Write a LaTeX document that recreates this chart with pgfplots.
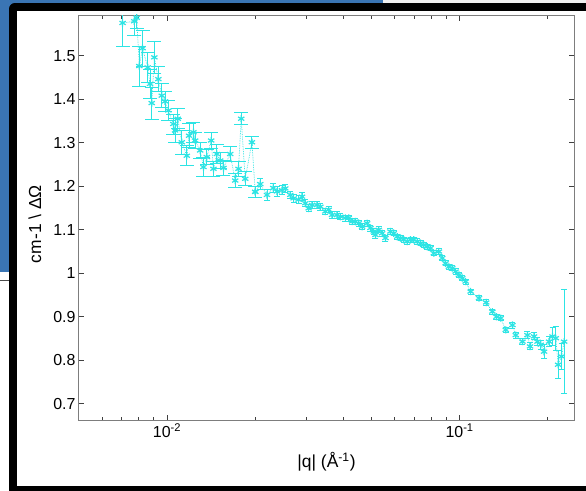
\documentclass[border=0pt]{standalone}
\usepackage{pgfplots}
\pgfplotsset{compat=1.18}
\usepackage{pgfplotstable}
\usepackage{fontspec}
\setmainfont{Liberation Sans}

\definecolor{scan}{RGB}{45,228,228}
\definecolor{winblue}{RGB}{58,117,180}
\definecolor{axgray}{RGB}{125,125,125}

% low-q detector: q, I, dI
\pgfplotstableread{
q I dI
0.007047 1.575 0.055
0.007727 1.579 0.032
0.007875 1.587 0.025
0.008039 1.476 0.046
0.008244 1.517 0.041
0.008588 1.473 0.034
0.008746 1.435 0.034
0.008864 1.391 0.037
0.009048 1.496 0.037
0.009337 1.446 0.028
0.009591 1.408 0.028
0.009844 1.395 0.023
0.010103 1.374 0.023
0.010509 1.343 0.023
0.010651 1.328 0.028
0.010880 1.355 0.023
0.011229 1.301 0.028
0.011682 1.270 0.023
0.011895 1.316 0.028
0.012305 1.324 0.023
0.012472 1.305 0.018
0.012973 1.282 0.018
0.013315 1.244 0.021
0.013677 1.267 0.018
0.014149 1.305 0.018
0.014408 1.240 0.018
0.014799 1.274 0.021
0.015189 1.259 0.018
0.015590 1.242 0.018
0.016436 1.274 0.018
0.017097 1.213 0.016
0.017548 1.240 0.018
0.017925 1.355 0.014
0.018500 1.217 0.016
0.019503 1.301 0.014
0.020017 1.187 0.012
}\lowq

% higher q
\pgfplotstableread{
q I dI
0.020017 1.187 0.012
0.020821 1.205 0.012
0.021950 1.180 0.012
0.023069 1.196 0.011
0.023752 1.188 0.011
0.024708 1.191 0.010
0.025359 1.195 0.010
0.026379 1.180 0.009
0.027074 1.172 0.009
0.028164 1.169 0.009
0.028929 1.176 0.009
0.029691 1.161 0.008
0.030473 1.149 0.008
0.031301 1.157 0.008
0.032557 1.157 0.008
0.033414 1.153 0.008
0.034759 1.142 0.007
0.035674 1.146 0.007
0.036644 1.134 0.007
0.038117 1.134 0.007
0.039122 1.130 0.007
0.040696 1.127 0.007
0.041769 1.127 0.007
0.042904 1.119 0.007
0.044036 1.119 0.007
0.045194 1.115 0.007
0.046422 1.107 0.007
0.048289 1.115 0.007
0.049561 1.104 0.007
0.050866 1.096 0.007
0.051553 1.088 0.007
0.052913 1.100 0.007
0.054350 1.092 0.007
0.055784 1.081 0.007
0.058025 1.096 0.006
0.059566 1.092 0.006
0.061182 1.084 0.006
0.062797 1.081 0.006
0.064451 1.077 0.006
0.066204 1.073 0.006
0.067947 1.077 0.006
0.069736 1.077 0.006
0.071631 1.073 0.006
0.073520 1.069 0.006
0.075456 1.065 0.006
0.077505 1.061 0.006
0.079549 1.058 0.006
0.081645 1.046 0.006
0.084928 1.050 0.006
0.087235 1.035 0.006
0.089532 1.023 0.006
0.091892 1.015 0.006
0.094406 1.012 0.006
0.096890 1.004 0.006
0.099449 0.996 0.006
0.102150 0.989 0.006
0.104840 0.981 0.006
0.109060 0.958 0.006
0.116440 0.943 0.006
0.123240 0.933 0.006
0.129420 0.912 0.006
0.133670 0.900 0.006
0.138170 0.897 0.006
0.143730 0.870 0.006
0.151530 0.881 0.007
0.155520 0.858 0.007
0.163950 0.843 0.007
0.170540 0.858 0.008
0.174070 0.832 0.008
0.179650 0.855 0.008
0.184540 0.843 0.009
0.189400 0.836 0.010
0.194400 0.820 0.016
0.202220 0.843 0.012
0.207720 0.855 0.021
0.213200 0.851 0.028
0.217090 0.790 0.032
0.223000 0.809 0.030
0.227620 0.843 0.119
}\highq

\begin{document}
\begin{tikzpicture}
\path[use as bounding box] (0bp,0bp) rectangle (586bp,-491bp);
% window frame behind the figure
\begin{scope}[x=1bp,y=-1bp]
\clip (0,0) rectangle (586,491);
\fill[white] (0,0) rectangle (586,491);
\fill[winblue] (0,0) rectangle (383,272);
\fill[gray!12] (383,0) rectangle (586,3);
\draw[gray!60!black, line width=1] (0,280) -- (9,280);
\fill[black, rounded corners=6] (9,3) rectangle (620,520);
\fill[white] (17,11) rectangle (586,486);
\end{scope}

\begin{axis}[
    at={(79bp,-420bp)}, anchor=south west,
    scale only axis,
    width=495bp, height=404bp,
    xmode=log,
    xmin=0.005, xmax=0.246,
    ymin=0.663, ymax=1.591,
    xtick={0.01,0.1},
    xticklabels={10\textsuperscript{-2},10\textsuperscript{-1}},
    minor xtick={0.006,0.007,0.008,0.009,0.02,0.03,0.04,0.05,0.06,0.07,0.08,0.09,0.2},
    ytick={0.7,0.8,0.9,1,1.1,1.2,1.3,1.4,1.5},
    yticklabels={0.7,0.8,0.9,1,1.1,1.2,1.3,1.4,1.5},
    tick align=inside,
    major tick length=5bp,
    minor tick length=3bp,
    axis line style={axgray, line width=1bp},
    every tick/.style={black!75, line width=0.8bp},
    tick label style={font=\fontsize{16}{18}\selectfont, black},
    label style={font=\fontsize{17.5}{20}\selectfont},
    xlabel={|q| (Å\textsuperscript{-1})},
    ylabel={cm-1 \textbackslash{} ΔΩ},
    xlabel style={at={(axis description cs:0.5,-0.104)}, anchor=center},
    ylabel style={at={(axis description cs:-0.089,0.485)}, anchor=center},
]
\addplot[scan, densely dotted, line width=0.7bp, forget plot] table[x=q, y=I] {\lowq};
\addplot[scan, densely dotted, line width=0.7bp, forget plot] table[x=q, y=I] {\highq};

\addplot[scan, only marks, mark=asterisk, mark size=3.6bp,
    mark options={line width=1.2bp, solid},
    error bars/.cd, y dir=both, y explicit,
    error bar style={scan, line width=0.9bp, solid},
    error mark options={rotate=90, scan, line width=0.9bp, mark size=7bp}]
    table[x=q, y=I, y error=dI] {\lowq};
\addplot[scan, only marks, mark=asterisk, mark size=3.6bp,
    mark options={line width=1.2bp, solid},
    error bars/.cd, y dir=both, y explicit,
    error bar style={scan, line width=0.9bp, solid},
    error mark options={rotate=90, scan, line width=0.9bp, mark size=3bp}]
    table[x=q, y=I, y error=dI] {\highq};
\end{axis}
\end{tikzpicture}
\end{document}
